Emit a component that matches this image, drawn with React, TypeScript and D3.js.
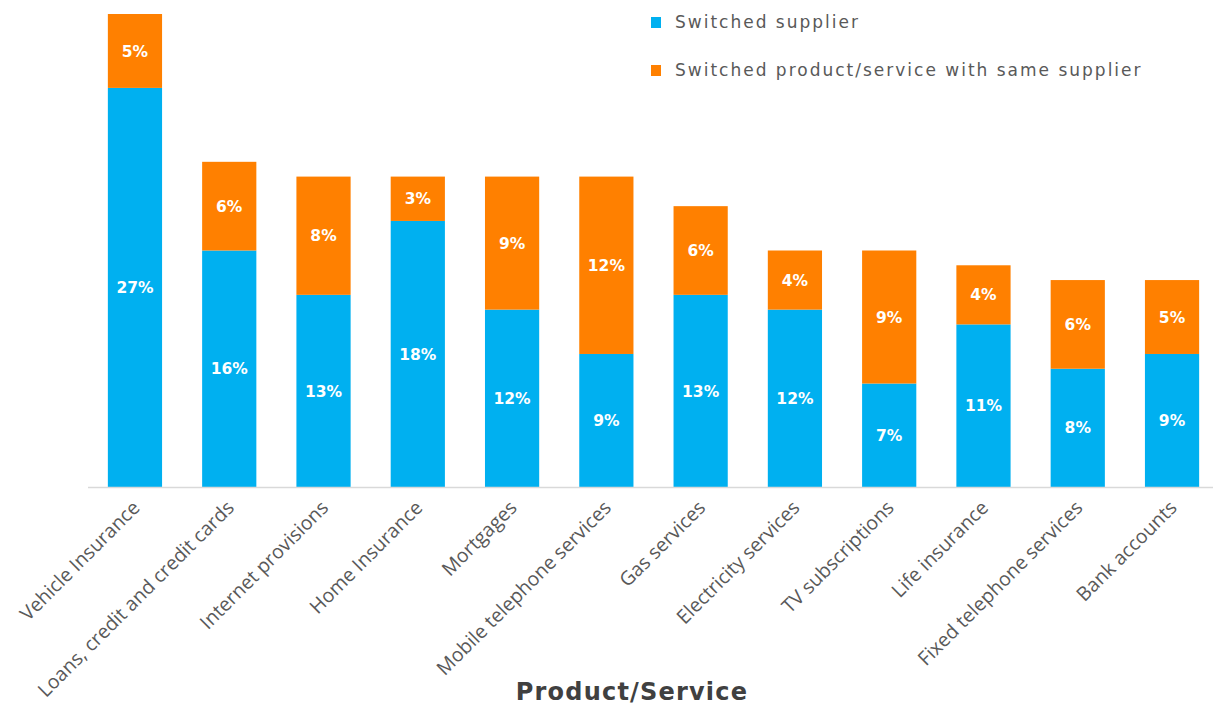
import React from "react";
import * as d3 from "d3";

const categories = [
  "Vehicle Insurance",
  "Loans, credit and credit cards",
  "Internet provisions",
  "Home Insurance",
  "Mortgages",
  "Mobile telephone services",
  "Gas services",
  "Electricity services",
  "TV subscriptions",
  "Life insurance",
  "Fixed telephone services",
  "Bank accounts",
];
const switchedSupplier = [27, 16, 13, 18, 12, 9, 13, 12, 7, 11, 8, 9];
const switchedProduct = [5, 6, 8, 3, 9, 12, 6, 4, 9, 4, 6, 5];
const seriesNames = ["Switched supplier", "Switched product/service with same supplier"];
const colors = ["#00B0F0", "#FF8000"];

const W = 1213;
const H = 706;
const baseY = 487;

export default function App() {
  const x = d3
    .scaleBand<string>()
    .domain(categories)
    .range([89, 1218])
    .paddingInner(0.425)
    .paddingOuter(0.2);
  const y = d3.scaleLinear().domain([0, 32]).range([baseY, 14]);

  const rows = categories.map((c, i) => ({
    cat: c,
    s: switchedSupplier[i],
    p: switchedProduct[i],
  }));
  const stack = d3.stack<any>().keys(["s", "p"])(rows);

  const font = "'Open Sans', 'Liberation Sans', sans-serif";
  const geo = "'DejaVu Sans', sans-serif";

  return (
    <svg width={W} height={H} style={{ position: "absolute", left: 0, top: 0 }}>
      <rect width={W} height={H} fill="#fff" />
      {stack.map((layer, li) => (
        <g key={li}>
          {layer.map((d, i) => {
            const x0 = x(categories[i])!;
            const yTop = y(d[1]);
            const yBot = y(d[0]);
            const v = d[1] - d[0];
            return (
              <g key={i}>
                <rect x={x0} y={yTop} width={x.bandwidth()} height={yBot - yTop} fill={colors[li]} />
                <text
                  x={x0 + x.bandwidth() / 2}
                  y={(yTop + yBot) / 2}
                  dy="0.36em"
                  textAnchor="middle"
                  fill="#fff"
                  fontFamily={geo}
                  fontWeight="bold"
                  fontSize={15.5}
                >
                  {v}%
                </text>
              </g>
            );
          })}
        </g>
      ))}
      <line x1={88} x2={W} y1={baseY + 0.5} y2={baseY + 0.5} stroke="#d9d9d9" strokeWidth={1.5} />
      {categories.map((c) => (
        <text
          key={c}
          transform={`translate(${x(c)! + x.bandwidth() / 2 + 6},${baseY + 22}) rotate(-45)`}
          textAnchor="end"
          fill="#595959"
          fontFamily={font}
          fontSize={19.5}
        >
          {c}
        </text>
      ))}
      {seriesNames.map((n, i) => (
        <g key={n} transform={`translate(651,${17 + i * 48})`}>
          <rect x={0} y={0} width={10} height={11} fill={colors[i]} />
          <text x={24} y={11} fill="#595959" fontFamily={geo} fontSize={17} letterSpacing={2}>
            {n}
          </text>
        </g>
      ))}
      <text
        x={632}
        y={700}
        textAnchor="middle"
        fill="#404040"
        fontFamily={geo}
        fontWeight="bold"
        fontSize={24}
        letterSpacing={1.2}
      >
        Product/Service
      </text>
    </svg>
  );
}
